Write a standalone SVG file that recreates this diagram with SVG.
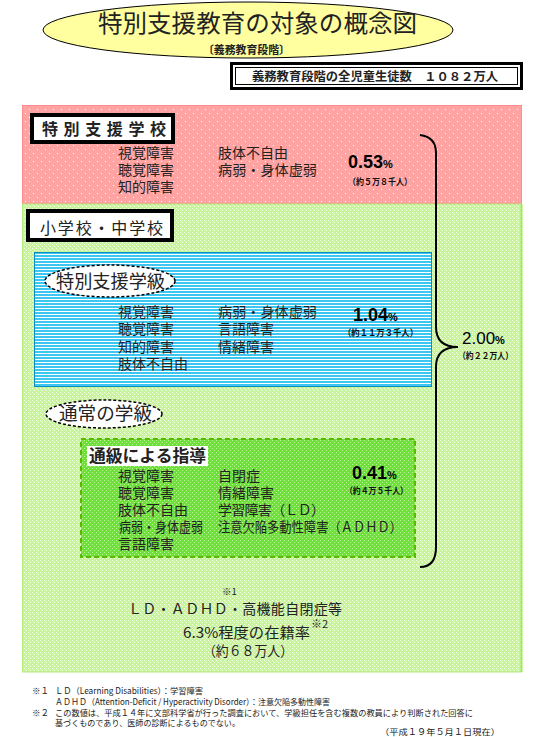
<svg xmlns="http://www.w3.org/2000/svg" width="545" height="737" viewBox="0 0 545 737">
<defs>
<pattern id="pinkDots" width="8" height="8" patternUnits="userSpaceOnUse">
<rect width="8" height="8" fill="#ffa3a3"/>
<rect x="1" y="1" width="1" height="1" fill="#ffffff"/>
<rect x="5" y="5" width="1" height="1" fill="#ffffff"/>
</pattern>
<pattern id="greenHatch" width="4" height="4" patternUnits="userSpaceOnUse">
<rect width="4" height="4" fill="#c9f39c"/>
<rect x="0" y="0" width="1" height="1" fill="#f4ffe8"/>
<rect x="2" y="2" width="1" height="1" fill="#f4ffe8"/>
<rect x="1" y="1" width="1" height="1" fill="#e2fbc8"/>
</pattern>
<pattern id="blueLines" width="4" height="3" patternUnits="userSpaceOnUse">
<rect width="4" height="3" fill="#ffffff"/>
<rect width="4" height="2" fill="#3cc6f2"/>
</pattern>
<pattern id="brightGreen" width="4" height="4" patternUnits="userSpaceOnUse">
<rect width="4" height="4" fill="#6fe03a"/>
<rect x="0" y="0" width="1" height="1" fill="#b8f59a"/>
<rect x="2" y="2" width="1" height="1" fill="#b8f59a"/>
</pattern>
<style>
.jp{font-family:"Noto Sans CJK JP","Noto Sans",sans-serif;fill:#222}
.d{font-size:14px}
.num{font-family:"Liberation Sans",Arial,sans-serif;font-size:18px;font-weight:bold;fill:#000}
.pct{font-size:11px}
.sm{font-family:"Noto Sans CJK JP",sans-serif;font-size:9px;font-weight:bold;fill:#111}
.fn{font-family:"Noto Sans CJK JP",sans-serif;font-size:8.5px;fill:#222}
.lbl{fill:#fff;stroke:#000;stroke-width:4}
.oval{fill:#fff;stroke:#000;stroke-width:1.5;stroke-dasharray:3 2}
</style>
</defs>

<g id="title">
<ellipse cx="248" cy="30" rx="205" ry="28" fill="#ffffa0" stroke="#000" stroke-width="1"/>
<text class="jp" x="98" y="32" font-size="24" textLength="319" lengthAdjust="spacingAndGlyphs" fill="#000">特別支援教育の対象の概念図</text>
<text class="jp" x="203" y="54" font-size="11" font-weight="bold" textLength="87" lengthAdjust="spacingAndGlyphs">〔義務教育段階〕</text>
</g>

<g id="total">
<rect x="231.5" y="63.5" width="290" height="25" fill="#fff" stroke="#000" stroke-width="3"/>
<rect x="235.5" y="67.5" width="282" height="17" fill="none" stroke="#000" stroke-width="1"/>
<text class="jp" x="252" y="81" font-size="12" font-weight="bold" textLength="246" lengthAdjust="spacingAndGlyphs" fill="#000">義務教育段階の全児童生徒数　１０８２万人</text>
</g>

<g id="special-school">
<rect x="22.5" y="105.5" width="499" height="98" fill="url(#pinkDots)" stroke="#ff8c8c" stroke-width="1"/>
<rect class="lbl" x="32" y="115" width="141" height="27"/>
<text class="jp" x="42" y="135" font-size="16" font-weight="bold" textLength="124" lengthAdjust="spacing" fill="#000">特別支援学校</text>
<text class="jp d" x="118" y="158">視覚障害</text>
<text class="jp d" x="118" y="175">聴覚障害</text>
<text class="jp d" x="118" y="192">知的障害</text>
<text class="jp d" x="218" y="158">肢体不自由</text>
<text class="jp d" x="218" y="175" textLength="99" lengthAdjust="spacingAndGlyphs">病弱・身体虚弱</text>
<text class="num" x="348" y="168">0.53<tspan class="pct">%</tspan></text>
<text class="sm" x="348" y="185" textLength="64" lengthAdjust="spacingAndGlyphs">（約５万８千人）</text>
</g>

<g id="elementary-junior">
<rect x="22.5" y="204" width="499" height="468" fill="url(#greenHatch)" stroke="#b5ec80" stroke-width="1"/>
<line x1="521.5" y1="204" x2="521.5" y2="672" stroke="#9fe860" stroke-width="2"/>
<rect class="lbl" x="28" y="211" width="144" height="29"/>
<text class="jp" x="40" y="234" font-size="16" textLength="123" lengthAdjust="spacing" fill="#000">小学校・中学校</text>
</g>

<g id="special-class">
<rect x="34.5" y="252.5" width="397" height="134" fill="url(#blueLines)" stroke="#0a8fc0" stroke-width="1"/>
<ellipse class="oval" cx="110" cy="281" rx="65" ry="16"/>
<text class="jp" x="56" y="288" font-size="18" textLength="109" lengthAdjust="spacingAndGlyphs" fill="#000">特別支援学級</text>
<text class="jp d" x="118" y="317">視覚障害</text>
<text class="jp d" x="118" y="334">聴覚障害</text>
<text class="jp d" x="118" y="352">知的障害</text>
<text class="jp d" x="118" y="369">肢体不自由</text>
<text class="jp d" x="218" y="317" textLength="99" lengthAdjust="spacingAndGlyphs">病弱・身体虚弱</text>
<text class="jp d" x="218" y="334">言語障害</text>
<text class="jp d" x="218" y="352">情緒障害</text>
<text class="num" x="353" y="321">1.04<tspan class="pct">%</tspan></text>
<text class="sm" x="343" y="336" textLength="75" lengthAdjust="spacingAndGlyphs">（約１１万３千人）</text>
</g>

<g id="regular-class">
<ellipse class="oval" cx="104" cy="414" rx="58" ry="14"/>
<text class="jp" x="59" y="420" font-size="18" textLength="93" lengthAdjust="spacingAndGlyphs" fill="#000">通常の学級</text>
</g>

<g id="tsukyu">
<rect x="81" y="439" width="334" height="118" fill="url(#brightGreen)" stroke="#5cb800" stroke-width="2" stroke-dasharray="5 3"/>
<rect x="87" y="446" width="121" height="20" fill="#fff"/>
<text class="jp" x="89" y="462" font-size="16.5" font-weight="bold" textLength="117" lengthAdjust="spacingAndGlyphs" fill="#000">通級による指導</text>
<text class="jp d" x="118" y="481">視覚障害</text>
<text class="jp d" x="118" y="498">聴覚障害</text>
<text class="jp d" x="118" y="515">肢体不自由</text>
<text class="jp d" x="119" y="532" textLength="84" lengthAdjust="spacingAndGlyphs">病弱・身体虚弱</text>
<text class="jp d" x="118" y="549">言語障害</text>
<text class="jp d" x="218" y="481">自閉症</text>
<text class="jp d" x="218" y="498">情緒障害</text>
<text class="jp d" x="218" y="515" textLength="107" lengthAdjust="spacing">学習障害（ＬＤ）</text>
<text class="jp d" x="218" y="532" textLength="184" lengthAdjust="spacingAndGlyphs">注意欠陥多動性障害（ＡＤＨＤ）</text>
<text class="num" x="352" y="479">0.41<tspan class="pct">%</tspan></text>
<text class="sm" x="345" y="494" textLength="63" lengthAdjust="spacingAndGlyphs">（約４万５千人）</text>
</g>

<g id="connectors">
<path d="M420,135 Q436,137 436,153 L436,327 Q436,347 458,347 Q436,347 436,367 L436,547 Q436,567 420,567" fill="none" stroke="#000" stroke-width="2"/>
</g>

<g id="total-special">
<text x="462" y="344" font-family="Liberation Sans, Arial, sans-serif" font-size="17" fill="#000">2.00<tspan class="pct" font-weight="bold">%</tspan></text>
<text class="sm" x="458" y="359" font-weight="normal" textLength="55" lengthAdjust="spacingAndGlyphs">（約２２万人）</text>
</g>

<g id="ld-adhd">
<text class="jp" x="222" y="595" font-size="9.5">※1</text>
<text class="jp" x="128" y="614" font-size="14" textLength="214" lengthAdjust="spacing">ＬＤ・ＡＤＨＤ・高機能自閉症等</text>
<text class="jp" x="183" y="638" font-size="14.5" textLength="127" lengthAdjust="spacingAndGlyphs">6.3%程度の在籍率</text>
<text class="jp" x="311" y="628" font-size="11">※2</text>
<text class="jp" x="203" y="656" font-size="14" textLength="90" lengthAdjust="spacingAndGlyphs">（約６８万人）</text>
</g>

<g id="footnotes">
<text class="fn" x="32" y="694">※１</text>
<text class="fn" x="55" y="694" textLength="148" lengthAdjust="spacingAndGlyphs">ＬＤ（Learning Disabilities）：学習障害</text>
<text class="fn" x="55" y="705" textLength="275" lengthAdjust="spacingAndGlyphs">ＡＤＨＤ（Attention-Deficit / Hyperactivity Disorder）：注意欠陥多動性障害</text>
<text class="fn" x="32" y="716">※２</text>
<text class="fn" x="55" y="716" textLength="418" lengthAdjust="spacingAndGlyphs">この数値は、平成１４年に文部科学省が行った調査において、学級担任を含む複数の教員により判断された回答に</text>
<text class="fn" x="55" y="726" textLength="185" lengthAdjust="spacingAndGlyphs">基づくものであり、医師の診断によるものでない。</text>
<text class="fn" x="380" y="735" textLength="120" lengthAdjust="spacingAndGlyphs">（平成１９年５月１日現在）</text>
</g>
</svg>
